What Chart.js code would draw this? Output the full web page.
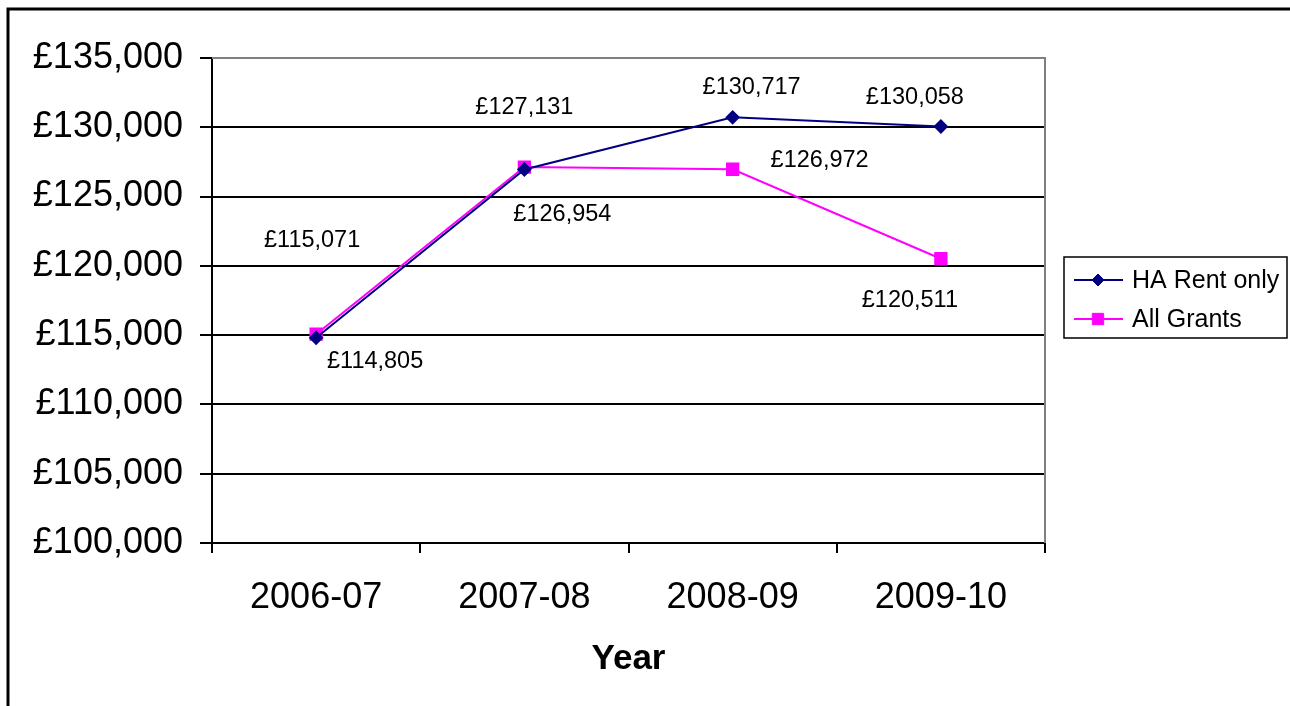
<!DOCTYPE html>
<html>
<head>
<meta charset="utf-8">
<script src="https://cdn.jsdelivr.net/npm/chart.js@4/dist/chart.umd.min.js"></script>
<style>
  html, body { margin: 0; padding: 0; background: #fff; }
  #wrap { position: relative; width: 1290px; height: 706px; }
</style>
</head>
<body>
<div id="wrap"><canvas id="c" width="1290" height="706"></canvas></div>
<script>
// ---- data ----
const categories = ['2006-07', '2007-08', '2008-09', '2009-10'];
const haRentOnly = [114805, 126954, 130717, 130058];
const allGrants = [115071, 127131, 126972, 120511];
const seriesNames = ['HA Rent only', 'All Grants'];
const yMin = 100000;
const yMax = 135000;
const yStep = 5000;
const xTitle = 'Year';

// label placement offsets (pixels from each point), per series
const haLabelOffsets = [[59, 24], [38, 45], [19, -30], [-26, -29]];
const agLabelOffsets = [[-4, -94], [0, -60], [87, -9], [-31, 42]];

const FONT = "'Liberation Sans', Arial, Helvetica, sans-serif";
const fmt = v => '£' + v.toLocaleString('en-GB');

const frame = {
  id: 'frame',
  beforeDraw(chart) {
    const ctx = chart.ctx;
    ctx.save();
    ctx.fillStyle = '#fff';
    ctx.fillRect(0, 0, chart.width, chart.height);
    ctx.strokeStyle = '#000';
    ctx.lineWidth = 3;
    ctx.beginPath();
    ctx.moveTo(8, chart.height);
    ctx.lineTo(8, 9);
    ctx.lineTo(chart.width, 9);
    ctx.stroke();
    ctx.restore();
  },
  beforeDatasetsDraw(chart) {
    const a = chart.chartArea, ctx = chart.ctx;
    ctx.save();
    ctx.strokeStyle = '#808080';
    ctx.lineWidth = 2;
    ctx.beginPath();
    ctx.moveTo(a.left, a.top);
    ctx.lineTo(a.right, a.top);
    ctx.lineTo(a.right, a.bottom);
    ctx.stroke();
    ctx.restore();
  }
};

const dataLabels = {
  id: 'dataLabels',
  afterDatasetsDraw(chart) {
    const ctx = chart.ctx;
    const offsets = [haLabelOffsets, agLabelOffsets];
    ctx.save();
    ctx.font = '23.5px ' + FONT;
    ctx.fillStyle = '#000';
    ctx.textAlign = 'center';
    ctx.textBaseline = 'middle';
    chart.data.datasets.forEach((ds, i) => {
      const meta = chart.getDatasetMeta(i);
      meta.data.forEach((pt, j) => {
        const o = offsets[i][j];
        ctx.fillText(fmt(ds.data[j]), pt.x + o[0], pt.y + o[1]);
      });
    });
    ctx.restore();
  }
};

const customLegend = {
  id: 'customLegend',
  afterDraw(chart) {
    const ctx = chart.ctx;
    const x = 1064, y = 257, w = 223, h = 81;
    ctx.save();
    ctx.fillStyle = '#fff';
    ctx.fillRect(x, y, w, h);
    ctx.strokeStyle = '#000';
    ctx.lineWidth = 1.5;
    ctx.strokeRect(x, y, w, h);
    ctx.font = '25px ' + FONT;
    ctx.textAlign = 'left';
    ctx.textBaseline = 'middle';
    chart.data.datasets.forEach((ds, i) => {
      const cy = y + 23 + i * 39;
      ctx.strokeStyle = ds.borderColor;
      ctx.lineWidth = 2;
      ctx.beginPath();
      ctx.moveTo(x + 10, cy);
      ctx.lineTo(x + 59, cy);
      ctx.stroke();
      ctx.fillStyle = ds.pointBackgroundColor;
      ctx.strokeStyle = ds.pointBorderColor;
      ctx.lineWidth = 1;
      Chart.helpers.drawPoint(ctx, {pointStyle: ds.pointStyle, rotation: 0, radius: ds.pointRadius, borderWidth: 1}, x + 34, cy);
      ctx.fillStyle = '#000';
      ctx.fillText(ds.label, x + 68, cy + 1);
    });
    ctx.restore();
  }
};

new Chart(document.getElementById('c'), {
  type: 'line',
  data: {
    labels: categories,
    datasets: [
      {
        label: seriesNames[0],
        data: haRentOnly,
        borderColor: '#000080',
        backgroundColor: '#000080',
        pointBackgroundColor: '#000080',
        pointBorderColor: '#000080',
        borderWidth: 2,
        pointStyle: 'rectRot',
        pointRadius: 6,
        pointHoverRadius: 6,
        tension: 0
      },
      {
        label: seriesNames[1],
        data: allGrants,
        borderColor: '#FF00FF',
        backgroundColor: '#FF00FF',
        pointBackgroundColor: '#FF00FF',
        pointBorderColor: '#FF00FF',
        borderWidth: 2,
        pointStyle: 'rect',
        pointRadius: 8,
        pointHoverRadius: 8,
        tension: 0
      }
    ]
  },
  options: {
    responsive: false,
    animation: false,
    events: [],
    layout: { padding: { left: 0, right: 245, top: 58, bottom: 0 } },
    plugins: {
      legend: { display: false },
      tooltip: { enabled: false },
      title: { display: false }
    },
    scales: {
      x: {
        type: 'category',
        offset: true,
        grid: {
          offset: true,
          drawOnChartArea: false,
          drawTicks: true,
          tickLength: 10,
          color: '#000',
          lineWidth: 2
        },
        border: { display: true, color: '#000', width: 2 },
        ticks: {
          color: '#000',
          font: { family: FONT, size: 36 },
          padding: 23,
          maxRotation: 0
        },
        title: {
          display: true,
          text: xTitle,
          color: '#000',
          font: { family: FONT, size: 35, weight: 'bold' },
          padding: { top: 6, bottom: 26 }
        },
        afterFit(scale) { scale.height = 706 - 543; }
      },
      y: {
        min: yMin,
        max: yMax,
        grid: {
          color: c => (c.tick && c.tick.value === yMax) ? '#808080' : '#000',
          tickColor: '#000',
          lineWidth: 2,
          drawTicks: true,
          tickLength: 12
        },
        border: { display: true, color: '#000', width: 2 },
        ticks: {
          stepSize: yStep,
          color: '#000',
          font: { family: FONT, size: 36 },
          padding: 17,
          callback: v => fmt(v)
        },
        afterFit(scale) { scale.width = 212; }
      }
    }
  },
  plugins: [frame, dataLabels, customLegend]
});
</script>
</body>
</html>
